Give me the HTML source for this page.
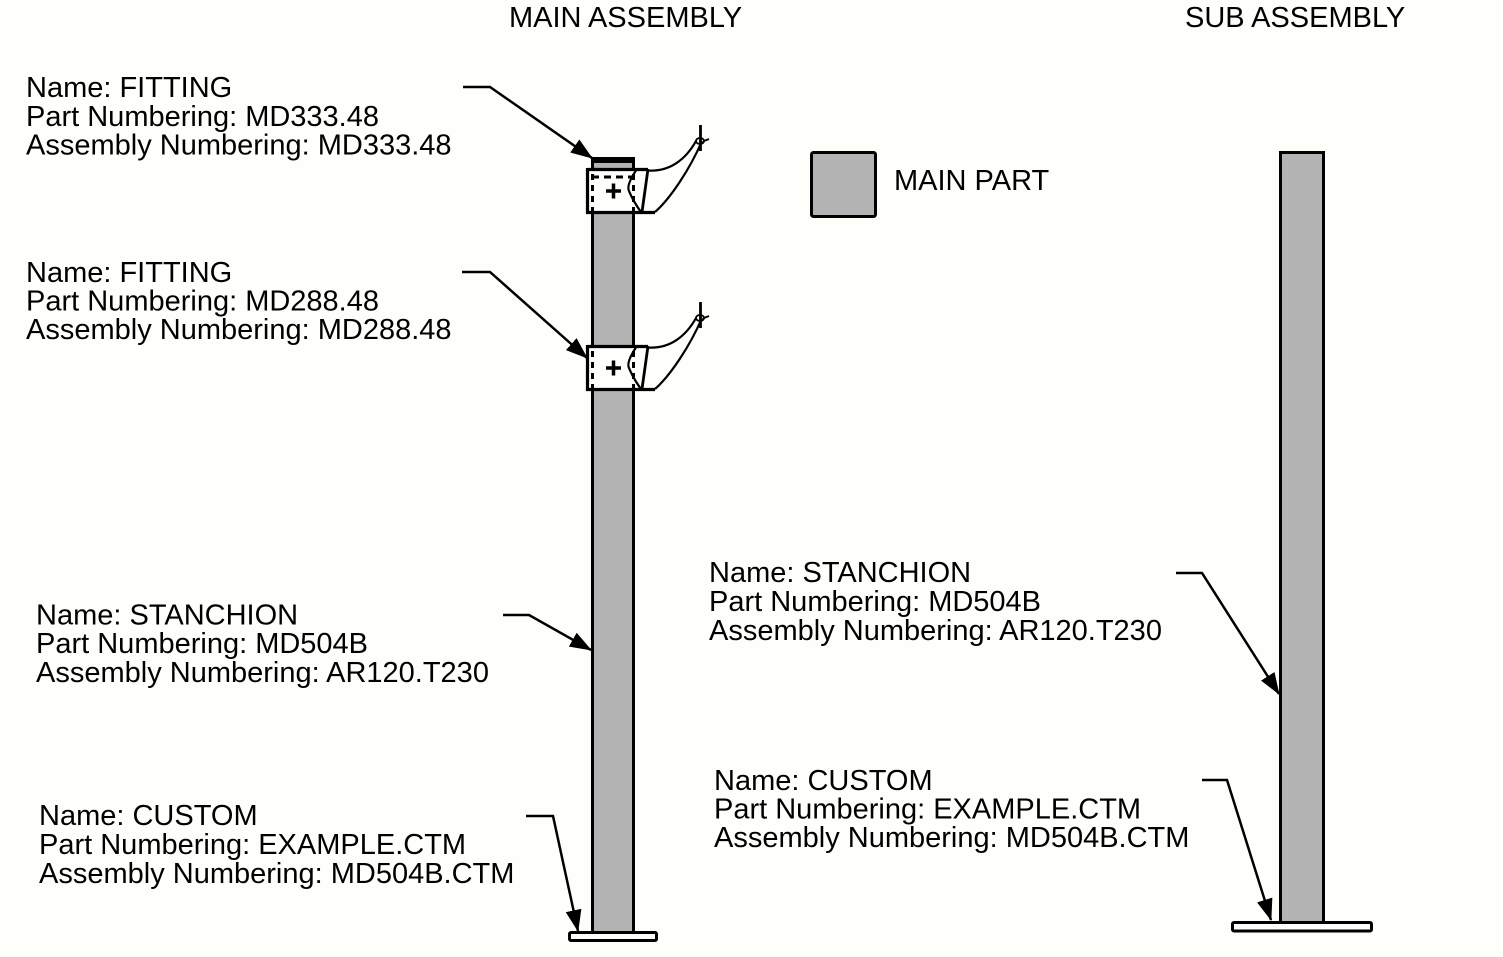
<!DOCTYPE html>
<html>
<head>
<meta charset="utf-8">
<style>
  html,body{margin:0;padding:0;background:#fefefa;}
  svg{display:block;}
  text{font-family:"Liberation Sans", Arial, sans-serif;fill:#000;}
</style>
</head>
<body>
<svg width="1503" height="957" viewBox="0 0 1503 957" xmlns="http://www.w3.org/2000/svg">
  <defs>
    <marker id="ah" markerUnits="userSpaceOnUse" markerWidth="22" markerHeight="16" viewBox="0 0 22 16" refX="21" refY="8" orient="auto">
      <path d="M0,0 L22,8 L0,16 z" fill="#000"/>
    </marker>
    <g id="fit">
      <path d="M587,346 H648 L642,389 L655,389 H587 Z" fill="#fefefa" stroke="none"/>
      <path d="M648,347 C670,348 686,335 695,318 L702,318 C690,345 670,375 655,389 Z" fill="#fefefa" stroke="none"/>
      <path d="M587.5,346.5 H648 M587.5,345 V390.5 M586,389.5 H655" fill="none" stroke="#000" stroke-width="3.2"/>
      <path d="M648,346 L642,389" fill="none" stroke="#000" stroke-width="2.8"/>
      <path d="M637,346 Q626,362 629,368 Q633,378 641,389" fill="none" stroke="#000" stroke-width="2.2"/>
      <path d="M648,347.5 C670,349 686,336 696,318" fill="none" stroke="#000" stroke-width="2.2"/>
      <path d="M655,389 C670,376 690,346 702,318" fill="none" stroke="#000" stroke-width="2.2"/>
      <ellipse cx="700" cy="318" rx="4" ry="3" fill="none" stroke="#000" stroke-width="1.8"/>
      <path d="M704,318 L709,316" stroke="#000" stroke-width="1.8"/>
      <path d="M700.5,302 V328" stroke="#000" stroke-width="2.8"/>
      <path d="M592.5,351 V388" stroke="#000" stroke-width="3" stroke-dasharray="6,5"/>
      <path d="M633.5,351 V388" stroke="#000" stroke-width="3" stroke-dasharray="6,5"/>
      <path d="M606,368 H621 M613.5,360.5 V375.5" stroke="#000" stroke-width="3.5"/>
    </g>
  </defs>
  <rect x="0" y="0" width="1503" height="957" fill="#fefefa"/>

  <!-- Headings -->
  <text x="509" y="27" font-size="29">MAIN ASSEMBLY</text>
  <text x="1185" y="27" font-size="29">SUB ASSEMBLY</text>

  <!-- Legend -->
  <rect x="811.5" y="152.5" width="64" height="64" rx="2" fill="#b3b3b3" stroke="#000" stroke-width="3"/>
  <text x="894" y="190" font-size="29">MAIN PART</text>

  <!-- Main column -->
  <rect x="592.5" y="159.5" width="41" height="773" fill="#b3b3b3" stroke="#000" stroke-width="3"/>
  <rect x="591" y="157" width="44" height="6" fill="#000"/>
  <!-- Main base plate -->
  <rect x="569.5" y="932.5" width="87" height="8" rx="1.5" fill="#fefefa" stroke="#000" stroke-width="3"/>

  <!-- Fitting 1 (top) -->
  <g transform="translate(0,-177)">
    <use href="#fit"/>
    <path d="M592,354 H634" stroke="#000" stroke-width="3" stroke-dasharray="7,5"/>
  </g>

  <!-- Fitting 2 -->
  <use href="#fit"/>

  <!-- Sub column -->
  <rect x="1280.5" y="152.5" width="43" height="770" fill="#b3b3b3" stroke="#000" stroke-width="3"/>
  <rect x="1232.5" y="922.5" width="139" height="8.5" rx="1.5" fill="#fefefa" stroke="#000" stroke-width="3"/>

  <!-- Leaders -->
  <g fill="none" stroke="#000" stroke-width="2.5" marker-end="url(#ah)">
    <polyline points="463,87 490,87 592,158"/>
    <polyline points="462,272 490,272 587,358"/>
    <polyline points="503,615 529,615 591,650"/>
    <polyline points="526,816 553,816 578,931"/>
    <polyline points="1176,573 1202,573 1279,694"/>
    <polyline points="1202,780 1227,780 1271,920"/>
  </g>

  <!-- Labels -->
  <g font-size="29">
    <text x="26" y="97">Name: FITTING</text>
    <text x="26" y="126">Part Numbering: MD333.48</text>
    <text x="26" y="154.5">Assembly Numbering: MD333.48</text>

    <text x="26" y="282">Name: FITTING</text>
    <text x="26" y="310.5">Part Numbering: MD288.48</text>
    <text x="26" y="339">Assembly Numbering: MD288.48</text>

    <text x="36" y="624.5">Name: STANCHION</text>
    <text x="36" y="653">Part Numbering: MD504B</text>
    <text x="36" y="682">Assembly Numbering: AR120.T230</text>

    <text x="39" y="825">Name: CUSTOM</text>
    <text x="39" y="854">Part Numbering: EXAMPLE.CTM</text>
    <text x="39" y="883">Assembly Numbering: MD504B.CTM</text>

    <text x="709" y="582">Name: STANCHION</text>
    <text x="709" y="611">Part Numbering: MD504B</text>
    <text x="709" y="640">Assembly Numbering: AR120.T230</text>

    <text x="714" y="790">Name: CUSTOM</text>
    <text x="714" y="818.5">Part Numbering: EXAMPLE.CTM</text>
    <text x="714" y="847">Assembly Numbering: MD504B.CTM</text>
  </g>
</svg>
</body>
</html>
